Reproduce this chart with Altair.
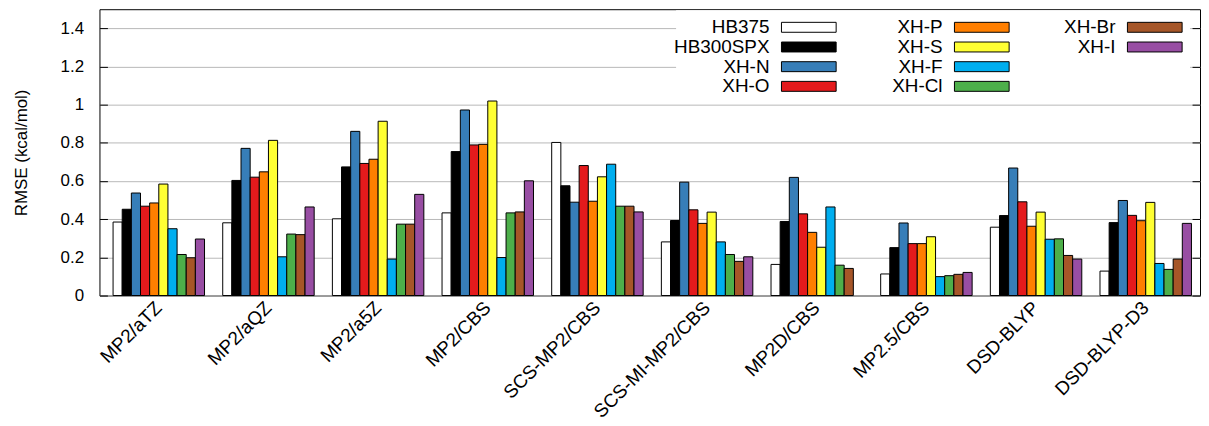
import altair as alt
import pandas as pd

methods = ["MP2/aTZ", "MP2/aQZ", "MP2/a5Z", "MP2/CBS", "SCS-MP2/CBS",
           "SCS-MI-MP2/CBS", "MP2D/CBS", "MP2.5/CBS", "DSD-BLYP", "DSD-BLYP-D3"]
series = ["HB375", "HB300SPX", "XH-N", "XH-O", "XH-P", "XH-S", "XH-F", "XH-Cl", "XH-Br", "XH-I"]
colors = ["#ffffff", "#000000", "#377eb8", "#e41a1c", "#ff7f00", "#ffff33",
          "#00aeef", "#4daf4a", "#a65628", "#984ea3"]

hb375 = [0.385, 0.381, 0.402, 0.433, 0.802, 0.281, 0.163, 0.113, 0.358, 0.128]
hb300spx = [0.452, 0.603, 0.674, 0.754, 0.575, 0.393, 0.388, 0.251, 0.419, 0.382]
xh_n = [0.537, 0.771, 0.860, 0.972, 0.489, 0.594, 0.619, 0.380, 0.668, 0.498]
xh_o = [0.468, 0.620, 0.692, 0.789, 0.681, 0.449, 0.428, 0.272, 0.491, 0.420]
xh_p = [0.485, 0.648, 0.714, 0.792, 0.494, 0.378, 0.331, 0.272, 0.363, 0.392]
xh_s = [0.584, 0.813, 0.913, 1.019, 0.622, 0.437, 0.253, 0.308, 0.437, 0.488]
xh_f = [0.350, 0.203, 0.191, 0.199, 0.688, 0.281, 0.464, 0.099, 0.295, 0.168]
xh_cl = [0.215, 0.322, 0.374, 0.433, 0.468, 0.215, 0.159, 0.104, 0.297, 0.137]
xh_br = [0.198, 0.319, 0.374, 0.438, 0.468, 0.179, 0.142, 0.111, 0.210, 0.191]
xh_i = [0.296, 0.464, 0.530, 0.601, 0.438, 0.203, None, 0.121, 0.191, 0.378]

y_ticks = [0, 0.2, 0.4, 0.6, 0.8, 1.0, 1.2, 1.4]

all_vals = [hb375, hb300spx, xh_n, xh_o, xh_p, xh_s, xh_f, xh_cl, xh_br, xh_i]
rows = []
for s, vals in zip(series, all_vals):
    for m, v in zip(methods, vals):
        if v is not None:
            rows.append({"method": m, "series": s, "value": v})
df = pd.DataFrame(rows)

W, H = 1107, 288
FONT = "Liberation Sans"

color_scale = alt.Scale(domain=series, range=colors)
y_scale = alt.Scale(domain=[0, 1.5], nice=False, zero=True)

bars = alt.Chart(df).mark_bar(stroke="black", strokeWidth=1).encode(
    x=alt.X("method:N", sort=methods,
            scale=alt.Scale(paddingInner=0.166, paddingOuter=0.101, align=0.614),
            axis=alt.Axis(title=None, labelAngle=-45, labelAlign="right",
                          labelBaseline="middle", ticks=False, domain=False,
                          labelPadding=9, labelFontSize=19, grid=False)),
    xOffset=alt.XOffset("series:N", sort=series,
                        scale=alt.Scale(domain=series, paddingInner=0, paddingOuter=0)),
    y=alt.Y("value:Q", scale=y_scale,
            axis=alt.Axis(values=y_ticks, format="~g", title="RMSE (kcal/mol)",
                          grid=True, ticks=False, domain=False, labelPadding=16,
                          titlePadding=30, labelFontSize=17, titleFontSize=17,
                          titleFontWeight="normal")),
    color=alt.Color("series:N", scale=color_scale, legend=None),
)

tick_l = alt.Chart(df).mark_point(opacity=0).encode(
    y=alt.Y("value:Q", scale=y_scale,
            axis=alt.Axis(orient="right", offset=-W, values=y_ticks, labels=False,
                          domain=False, grid=False, ticks=True, tickSize=8,
                          tickColor="black", title=None))
)
tick_r = alt.Chart(df).mark_point(opacity=0).encode(
    y=alt.Y("value:Q", scale=y_scale,
            axis=alt.Axis(orient="left", offset=-W, values=y_ticks, labels=False,
                          domain=False, grid=False, ticks=True, tickSize=8,
                          tickColor="black", title=None))
)

bg = alt.Chart(pd.DataFrame({"a": [0]})).mark_rect(fill="white").encode(
    x=alt.value(580), x2=alt.value(1097), y=alt.value(1), y2=alt.value(92)
)

leg = pd.DataFrame({"series": series,
                    "col": [i // 4 for i in range(len(series))],
                    "row": [i % 4 for i in range(len(series))]})
lx = alt.Scale(domain=[0, 2], range=[686, 1034])
ly = alt.Scale(domain=[0, 3], range=[18.2, 77.6])

leg_rect = alt.Chart(leg).transform_calculate(
    xa="datum.col", xb="datum.col + 55/174",
    ya="datum.row - 5/19.8", yb="datum.row + 5/19.8"
).mark_rect(stroke="black", strokeWidth=1).encode(
    x=alt.X("xa:Q", scale=lx, axis=None), x2="xb:Q",
    y=alt.Y("ya:Q", scale=ly, axis=None), y2="yb:Q",
    color=alt.Color("series:N", scale=color_scale, legend=None),
)
leg_text = alt.Chart(leg).mark_text(align="right", baseline="middle", dx=-12,
                                    fontSize=19, font=FONT, color="black").encode(
    x=alt.X("col:Q", scale=lx, axis=None),
    y=alt.Y("row:Q", scale=ly, axis=None),
    text="series:N",
)

chart = alt.layer(bg, bars, tick_l, tick_r, leg_rect, leg_text).resolve_scale(
    x="independent", y="independent"
).properties(
    width=W, height=H, padding={"left": 4, "top": 0, "right": 0, "bottom": 0}
).configure_view(
    stroke="black", strokeWidth=1
).configure_axis(
    labelColor="black", titleColor="black", gridColor="#b8b8b8", gridWidth=1,
    labelFont=FONT, titleFont=FONT
).configure_text(font=FONT)

chart.save("out.html", embed_options={"renderer": "svg", "actions": False})
